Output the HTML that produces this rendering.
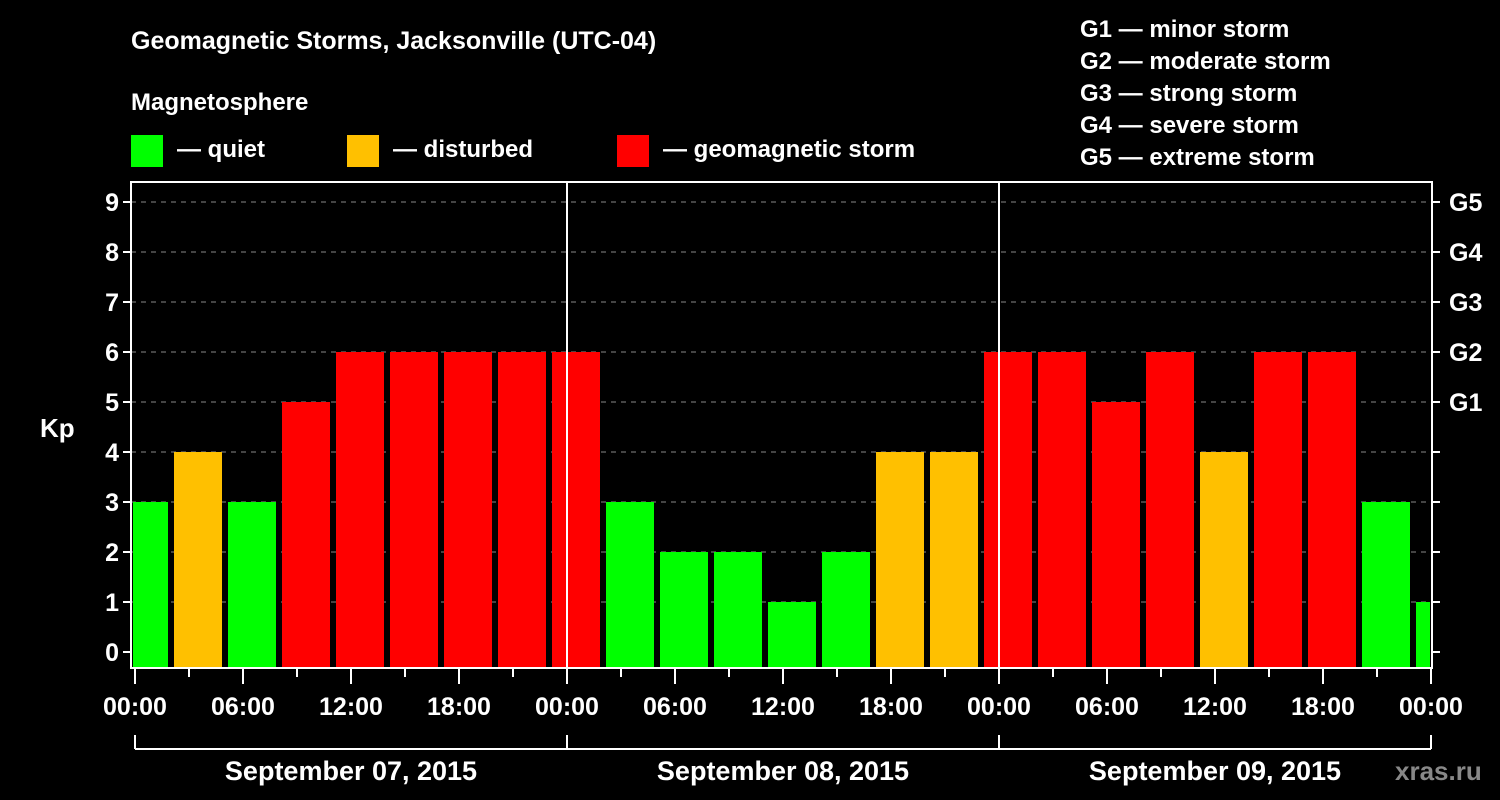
<!DOCTYPE html>
<html><head><meta charset="utf-8"><style>
html,body{margin:0;padding:0;background:#000;}
svg{display:block;font-family:"Liberation Sans",Arial,sans-serif;font-weight:bold;}
</style></head><body>
<svg id="chart" width="1500" height="800" viewBox="0 0 1500 800">
<rect x="0" y="0" width="1500" height="800" fill="#000"/>
<text x="131" y="49" fill="#fff" font-size="25">Geomagnetic Storms, Jacksonville (UTC-04)</text>
<text x="131" y="110" fill="#fff" font-size="24">Magnetosphere</text>
<g><rect x="131" y="135" width="32" height="32" fill="#00ff00"/><text x="177" y="157" fill="#fff" font-size="24">— quiet</text></g>
<g><rect x="347" y="135" width="32" height="32" fill="#ffc000"/><text x="393" y="157" fill="#fff" font-size="24">— disturbed</text></g>
<g><rect x="617" y="135" width="32" height="32" fill="#ff0000"/><text x="663" y="157" fill="#fff" font-size="24">— geomagnetic storm</text></g>
<g fill="#fff" font-size="24">
<text x="1080" y="37">G1 — minor storm</text>
<text x="1080" y="69">G2 — moderate storm</text>
<text x="1080" y="101">G3 — strong storm</text>
<text x="1080" y="133">G4 — severe storm</text>
<text x="1080" y="165">G5 — extreme storm</text>
</g>
<text x="40" y="437" fill="#fff" font-size="26">Kp</text>
<text x="1395" y="780" fill="#888" font-size="26">xras.ru</text>
<defs><clipPath id="plotclip"><rect x="133" y="183" width="1297" height="484"/></clipPath></defs>
<g id="grid"></g>
<g id="bars" clip-path="url(#plotclip)"></g>
<g id="axes"></g>
</svg>
<script>
const kpValues = [3,4,3,5,6,6,6,6,6, 3,2,2,1,2,4,4, 6,6,5,6,4,6,6,3,1];
const yTicks = [0,1,2,3,4,5,6,7,8,9];
const gLabels = ["G1","G2","G3","G4","G5"];
const xTickLabels = ["00:00","06:00","12:00","18:00","00:00","06:00","12:00","18:00","00:00","06:00","12:00","18:00","00:00"];
const dayLabels = ["September 07, 2015","September 08, 2015","September 09, 2015"];
const firstBarHour = -1; // local hour offset of first 3h bar

const NS = "http://www.w3.org/2000/svg";
const X0 = 135, PXH = 18, Y0 = 652, PXK = 50;
const L = 131, R = 1432, T = 182, B = 668;
function xs(h){return X0 + h*PXH;}
function ys(v){return Y0 - v*PXK;}
function mk(parent, tag, attrs, text){
  const e = document.createElementNS(NS, tag);
  for (const k in attrs) e.setAttribute(k, attrs[k]);
  if (text !== undefined) e.textContent = text;
  document.getElementById(parent).appendChild(e);
  return e;
}
function color(v){return v>=5?"#ff0000":(v>=4?"#ffc000":"#00ff00");}

// grid
yTicks.forEach(v=>{
  if (v>0){
    const g = mk("grid","line",{x1:L,x2:R,y1:ys(v),y2:ys(v),stroke:"#888","stroke-dasharray":"5,5","stroke-width":1});
    
    
  }
});
// bars
kpValues.forEach((v,i)=>{
  const h = firstBarHour + 3*i;
  const r = mk("bars","rect",{x:xs(h)+3,y:ys(v),width:3*PXH-6,height:B-ys(v),fill:color(v)});
  
  
});
// day separators
[24,48].forEach(h=>{
  const l = mk("axes","line",{x1:xs(h),x2:xs(h),y1:T,y2:B,stroke:"#fff","stroke-width":2});
  
  
});
// frame
const f = mk("axes","rect",{x:L,y:T,width:R-L,height:B-T,fill:"none",stroke:"#fff","stroke-width":2});


// y ticks
yTicks.forEach(v=>{
  mk("axes","line",{x1:L-8,x2:L,y1:ys(v),y2:ys(v),stroke:"#fff","stroke-width":2});
  mk("axes","line",{x1:R,x2:R+8,y1:ys(v),y2:ys(v),stroke:"#fff","stroke-width":2});
  const t = mk("axes","text",{x:L-12,y:ys(v)+9,fill:"#fff","font-size":25,"text-anchor":"end"},String(v));
  
  
});
gLabels.forEach((g,i)=>{
  const t = mk("axes","text",{x:R+17,y:ys(5+i)+9,fill:"#fff","font-size":25},g);
  
  
});
// x ticks
for (let h=0; h<=72; h+=3){
  const major = h%6===0;
  mk("axes","line",{x1:xs(h),x2:xs(h),y1:B,y2:B+(major?16:9),stroke:"#fff","stroke-width":2});
}
xTickLabels.forEach((lab,i)=>{
  const t = mk("axes","text",{x:xs(i*6),y:715,fill:"#fff","font-size":25,"text-anchor":"middle"},lab);
  
  
});
// date bracket
mk("axes","line",{x1:xs(0),x2:xs(72),y1:749,y2:749,stroke:"#fff","stroke-width":2});
[0,24,48,72].forEach(h=>mk("axes","line",{x1:xs(h),x2:xs(h),y1:735,y2:749,stroke:"#fff","stroke-width":2}));
dayLabels.forEach((d,i)=>{
  const t = mk("axes","text",{x:xs(i*24+12),y:780,fill:"#fff","font-size":27,"text-anchor":"middle"},d);
  
  
});
</script>
</body></html>
